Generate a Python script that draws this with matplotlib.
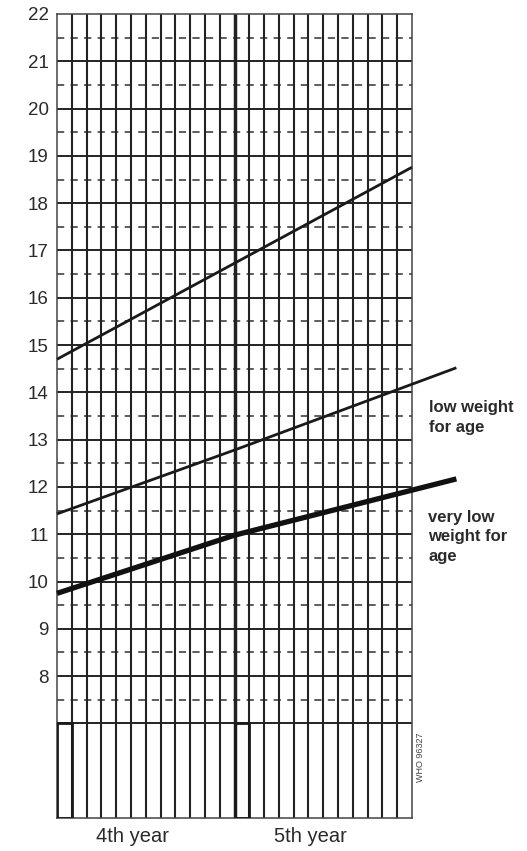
import matplotlib
matplotlib.use("Agg")
import matplotlib.pyplot as plt
from matplotlib.patches import Rectangle

# ---- data ----
upper_months = [0, 12, 24]
upper_weight = [14.70, 16.73, 18.76]

low_months = [0, 12, 27]
low_weight = [11.43, 12.78, 14.52]

vlow_months = [0, 12, 27]
vlow_weight = [9.75, 10.98, 12.17]

ytick_values = list(range(8, 23))
year_labels = ["4th year", "5th year"]
year_label_x = [5.1, 17.1]
n_months = 24

# ---- figure ----
W, H = 527, 851
fig = plt.figure(figsize=(W / 100, H / 100), dpi=100)
ax = fig.add_axes([57 / W, 1 - 818 / H, (412 - 57) / W, (818 - 14) / H])
ax.set_xlim(0, n_months)
ax.set_ylim(5, 22)

font = "Liberation Sans"
grid_col = "#222222"
dash_col = "#505050"

# horizontal lines
for v in range(7, 22):
    ax.plot([0, n_months], [v, v], color=grid_col, lw=1.4, solid_capstyle="butt", zorder=2)
for v in range(7, 22):
    ax.plot([0, n_months], [v + 0.5, v + 0.5], color=dash_col, lw=1.3,
            dashes=(4, 3.5), zorder=2)

# vertical month lines
for m in range(1, n_months):
    lw = 2.5 if m == 12 else 1.5
    ax.plot([m, m], [5, 22], color=grid_col, lw=lw, zorder=2)

# boxes at birthday months
for m0 in (0, 12):
    ax.add_patch(Rectangle((m0, 5), 1, 2, fill=False, ec="#1a1a1a", lw=2.0, zorder=3))

# spines
for s in ax.spines.values():
    s.set_color("#444444")
    s.set_linewidth(1.1)

# curves
ax.plot(upper_months, upper_weight, color="#1a1a1a", lw=2.0, zorder=4,
        solid_capstyle="butt", clip_on=False)
ax.plot(low_months, low_weight, color="#1a1a1a", lw=2.0, zorder=4,
        solid_capstyle="butt", clip_on=False)
ax.plot(vlow_months, vlow_weight, color="#111111", lw=3.8, zorder=4,
        solid_capstyle="butt", clip_on=False)

# ticks
ax.set_xticks([])
ax.set_yticks(ytick_values)
ax.set_yticklabels([str(v) for v in ytick_values], fontsize=13.5, family=font,
                   color="#2a2a2a")
ax.tick_params(axis="y", length=0, pad=6)

# curve labels
ax.text(25.15, 13.84, "low weight\nfor age", fontsize=12, fontweight="bold",
        family=font, color="#2a2a2a", va="top", ha="left", linespacing=1.4,
        clip_on=False)
ax.text(25.1, 11.52, "very low\nweight for\nage", fontsize=12, fontweight="bold",
        family=font, color="#2a2a2a", va="top", ha="left", linespacing=1.4,
        clip_on=False)

# year labels
for x, lab in zip(year_label_x, year_labels):
    ax.text(x, 4.6, lab, fontsize=14.5, family=font, color="#2a2a2a",
            ha="center", va="center", clip_on=False)

# code
ax.text(24.55, 6.28, "WHO 96327", fontsize=6.5, family=font, color="#444444",
        rotation=90, ha="center", va="center", clip_on=False)

fig.savefig("out.png", dpi=100, facecolor="white")
